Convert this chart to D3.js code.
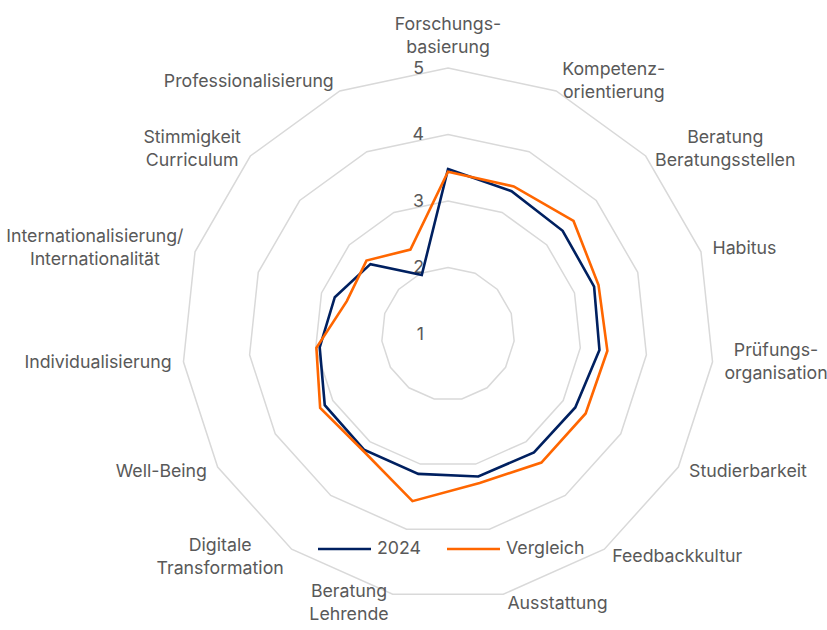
<!DOCTYPE html>
<html><head><meta charset="utf-8">
<script src="https://cdn.jsdelivr.net/npm/d3@7"></script>
<style>
html,body{margin:0;padding:0;background:#fff;}
svg{display:block;}
</style></head>
<body>
<svg id="chart" width="827" height="630"></svg>
<script>
const categories = [
  "Forschungs-\nbasierung",
  "Kompetenz-\norientierung",
  "Beratung\nBeratungsstellen",
  "Habitus",
  "Prüfungs-\norganisation",
  "Studierbarkeit",
  "Feedbackkultur",
  "Ausstattung",
  "Beratung\nLehrende",
  "Digitale\nTransformation",
  "Well-Being",
  "Individualisierung",
  "Internationalisierung/\nInternationalität",
  "Stimmigkeit\nCurriculum",
  "Professionalisierung"
];
const values2024 = [3.48, 3.35, 3.32, 3.31, 3.29, 3.21, 3.20, 3.19, 3.15, 3.15, 3.14, 2.94, 2.79, 2.57, 1.97];
const valuesVergleich = [3.44, 3.43, 3.54, 3.38, 3.41, 3.39, 3.39, 3.29, 3.57, 3.17, 3.22, 2.99, 2.60, 2.65, 2.39];
const seriesNames = ["2024", "Vergleich"];
const seriesColors = ["#002060", "#ff6600"];
const tickValues = [1, 2, 3, 4, 5];

const svg = d3.select("#chart");
const cx = 448, cy = 334;
const font = "Inter, 'Open Sans', sans-serif";
const textColor = "#595959";

// fit font size to reference width
const probe = svg.append("text").attr("font-family", font).attr("font-size", 100).text("Professionalisierung");
const pw = probe.node().getComputedTextLength();
probe.remove();
const fs = Math.max(12, Math.min(20, 100 * 170 / pw));

const r = d3.scaleLinear().domain([1, 5]).range([0, 266]);
const n = categories.length;
const angle = d3.scaleLinear().domain([0, n]).range([0, 2 * Math.PI]);

const g = svg.append("g").attr("transform", `translate(${cx},${cy})`);

// grid rings
const ringLine = d3.lineRadial()
  .angle((d, i) => angle(i))
  .radius(d => r(d))
  .curve(d3.curveLinearClosed);
tickValues.filter(v => v > 1).forEach(v => {
  g.append("path")
    .attr("d", ringLine(d3.range(n).map(() => v)))
    .attr("fill", "none")
    .attr("stroke", "#d9d9d9")
    .attr("stroke-width", 1.5);
});

// tick labels
g.selectAll("text.tick").data(tickValues).join("text")
  .attr("class", "tick")
  .attr("x", -24)
  .attr("y", d => -r(d) + 1)
  .attr("text-anchor", "end")
  .attr("dominant-baseline", "middle")
  .attr("font-family", font)
  .attr("font-size", fs)
  .attr("fill", textColor)
  .text(d => d);

// series
const seriesLine = d3.lineRadial()
  .angle((d, i) => angle(i))
  .radius(d => r(d))
  .curve(d3.curveLinearClosed);
[values2024, valuesVergleich].forEach((vals, si) => {
  g.append("path")
    .attr("d", seriesLine(vals))
    .attr("fill", "none")
    .attr("stroke", seriesColors[si])
    .attr("stroke-width", 2.6)
    .attr("stroke-linejoin", "miter");
});

// category labels (multi-line blocks centered)
const lh = 23;
const labelR = r(5) + 10;
function textWidth(s) {
  const t = svg.append("text").attr("font-family", font).attr("font-size", fs).text(s);
  const w = t.node().getComputedTextLength();
  t.remove();
  return w;
}
categories.forEach((c, i) => {
  const a = angle(i);
  const s = Math.sin(a), co = -Math.cos(a);
  const px = labelR * s, py = labelR * co;
  const lines = c.split("\n");
  const blockW = d3.max(lines, textWidth);
  let xCenter, yCenter;
  if (Math.abs(s) < 0.1) {
    xCenter = px;
    yCenter = py - lines.length * lh / 2 + 2;
  } else {
    xCenter = s > 0 ? px + 2 + blockW / 2 : px - 2 - blockW / 2;
    yCenter = py;
  }
  const t = g.append("text")
    .attr("text-anchor", "middle")
    .attr("font-family", font)
    .attr("font-size", fs)
    .attr("fill", textColor);
  lines.forEach((ln, k) => {
    t.append("tspan")
      .attr("x", xCenter)
      .attr("y", yCenter - (lines.length - 1) * lh / 2 + k * lh)
      .attr("dominant-baseline", "middle")
      .text(ln);
  });
});

// legend
const legend = svg.append("g");
const legendX = [318, 447];
seriesNames.forEach((name, i) => {
  const lx = legendX[i];
  legend.append("line")
    .attr("x1", lx).attr("x2", lx + 53)
    .attr("y1", 549).attr("y2", 549)
    .attr("stroke", seriesColors[i])
    .attr("stroke-width", 2.6);
  legend.append("text")
    .attr("x", lx + 59).attr("y", 549)
    .attr("dominant-baseline", "middle")
    .attr("font-family", font)
    .attr("font-size", fs)
    .attr("fill", textColor)
    .text(name);
});
</script>
</body></html>
